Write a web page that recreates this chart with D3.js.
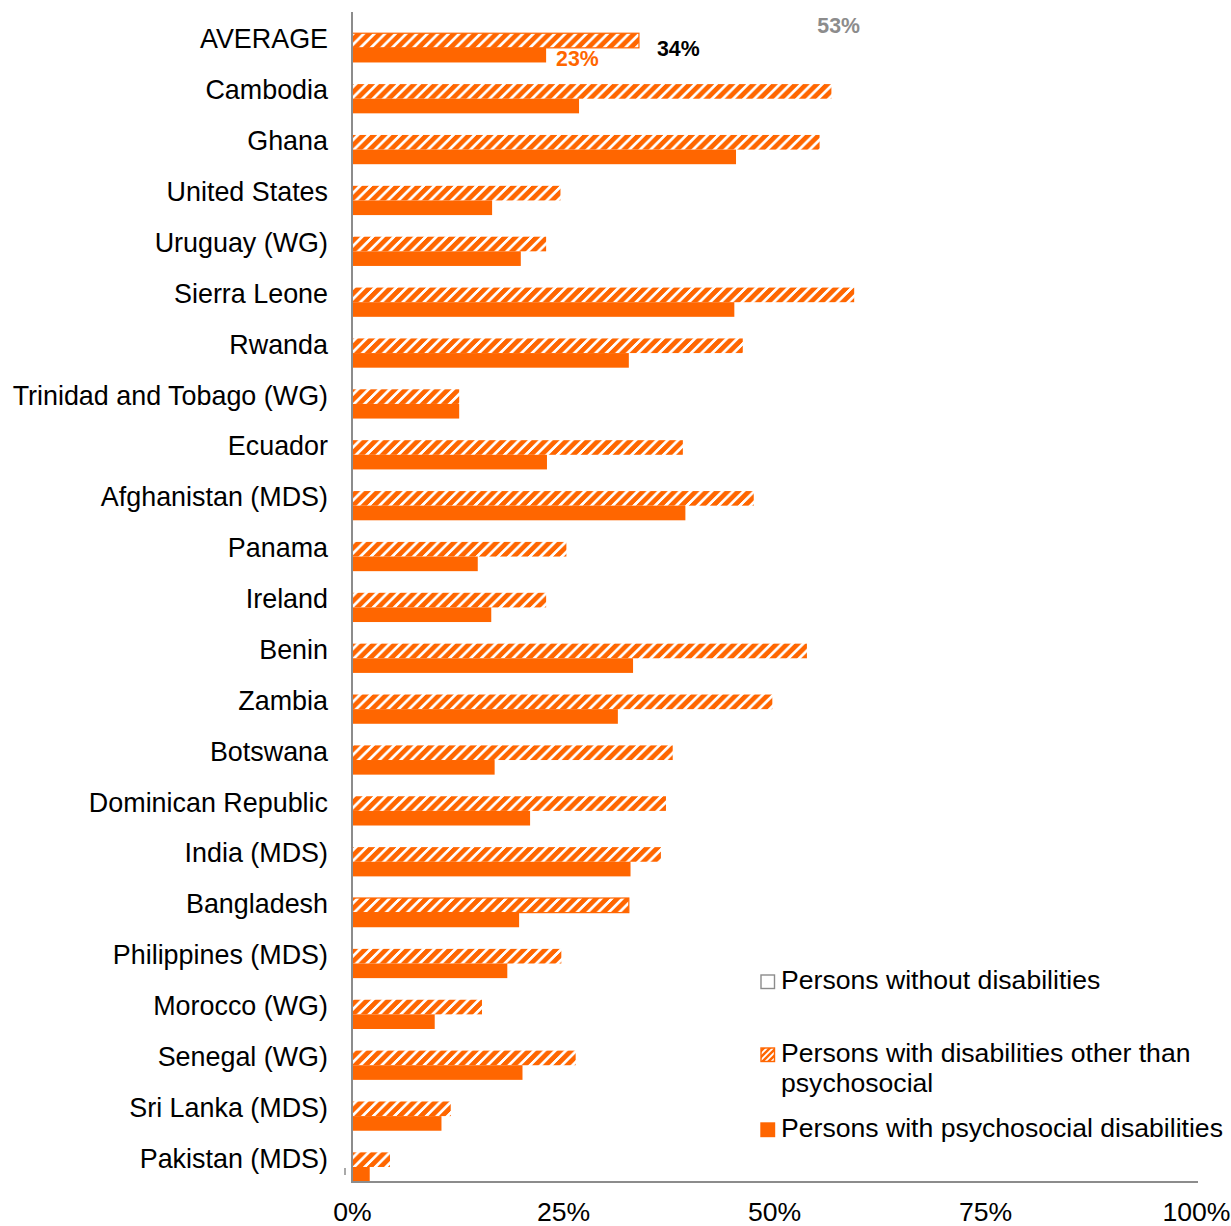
<!DOCTYPE html>
<html>
<head>
<meta charset="utf-8">
<script src="https://cdn.jsdelivr.net/npm/d3@7"></script>
<style>
  html, body { margin: 0; padding: 0; background: #fff; }
  svg { display: block; font-family: Arial, "Liberation Sans", sans-serif; }
</style>
</head>
<body>
<script>
const categories = ["AVERAGE","Cambodia","Ghana","United States","Uruguay (WG)","Sierra Leone","Rwanda","Trinidad and Tobago (WG)","Ecuador","Afghanistan (MDS)","Panama","Ireland","Benin","Zambia","Botswana","Dominican Republic","India (MDS)","Bangladesh","Philippines (MDS)","Morocco (WG)","Senegal (WG)","Sri Lanka (MDS)","Pakistan (MDS)"];
const seriesNames = ["Persons without disabilities","Persons with disabilities other than psychosocial","Persons with psychosocial disabilities"];
const withoutDisabilities = [53, null, null, null, null, null, null, null, null, null, null, null, null, null, null, null, null, null, null, null, null, null, null];
const otherThanPsychosocial = [34, 56.8, 55.4, 24.7, 23.0, 59.5, 46.3, 12.7, 39.2, 47.6, 25.4, 23.0, 53.9, 49.8, 38.0, 37.2, 36.6, 32.8, 24.8, 15.4, 26.5, 11.7, 4.5];
const psychosocial = [23, 26.9, 45.5, 16.6, 20.0, 45.3, 32.8, 12.7, 23.1, 39.5, 14.9, 16.5, 33.3, 31.5, 16.9, 21.1, 33.0, 19.8, 18.4, 9.8, 20.2, 10.6, 2.1];
const xTicks = [0, 25, 50, 75, 100];
const averageLabels = ["53%", "34%", "23%"];
const outlinedCategories = ["AVERAGE", "Bangladesh"];

const W = 1231, H = 1226;
const ORANGE = "#FF6600";
const GREY = "#8c8c8c";
const svg = d3.select("body").append("svg").attr("width", W).attr("height", H);

const defs = svg.append("defs");
const p = 10.6;
const pat = defs.append("pattern").attr("id", "hatch")
  .attr("patternUnits", "userSpaceOnUse").attr("width", p).attr("height", p);
pat.append("rect").attr("width", p).attr("height", p).attr("fill", "#fff");
pat.append("path")
  .attr("d", `M${-p/2},${p/2} L${p/2},${-p/2} M0,${p} L${p},0 M${p/2},${1.5*p} L${1.5*p},${p/2}`)
  .attr("stroke", ORANGE).attr("stroke-width", 4.1).attr("shape-rendering", "crispEdges");
const pat2 = defs.append("pattern").attr("id", "hatchSmall")
  .attr("patternUnits", "userSpaceOnUse").attr("width", 6).attr("height", 6);
pat2.append("rect").attr("width", 6).attr("height", 6).attr("fill", "#fff");
pat2.append("path").attr("d", "M-3,3 L3,-3 M0,6 L6,0 M3,9 L9,3")
  .attr("stroke", ORANGE).attr("stroke-width", 2.4);

const x = d3.scaleLinear().domain([0, 100]).range([352, 1196]);
const y = d3.scaleBand().domain(categories).range([12, 1182]).padding(0);
const bw = y.bandwidth();
const yInner = d3.scaleBand().domain(seriesNames).range([6.6, bw - 0.4]).padding(0);
const ih = yInner.bandwidth();

const rows = categories.map((c, i) => ({
  cat: c,
  vals: [withoutDisabilities[i], otherThanPsychosocial[i], psychosocial[i]]
}));

const fills = ["#fff", "url(#hatch)", ORANGE];

const g = svg.append("g");
rows.forEach(r => {
  r.vals.forEach((v, k) => {
    if (v == null) return;
    const rect = g.append("rect")
      .attr("x", x(0))
      .attr("y", y(r.cat) + yInner(seriesNames[k]))
      .attr("width", x(v) - x(0))
      .attr("height", ih)
      .attr("fill", fills[k]);
    if (k === 1 && outlinedCategories.includes(r.cat)) {
      rect.attr("stroke", ORANGE).attr("stroke-width", 1.2);
    }
  });
});

// AVERAGE data labels
const avg = rows[0];
const avgY = y(avg.cat);
svg.append("text").attr("x", x(avg.vals[0]) + 18).attr("y", avgY + yInner(seriesNames[0]) + ih / 2 + 7)
  .attr("font-size", 21.3).attr("font-weight", "bold").attr("fill", GREY).text(averageLabels[0]);
svg.append("text").attr("x", x(avg.vals[1]) + 18).attr("y", avgY + yInner(seriesNames[1]) + ih / 2 + 15)
  .attr("font-size", 21.3).attr("font-weight", "bold").attr("fill", "#000").text(averageLabels[1]);
svg.append("text").attr("x", x(avg.vals[2]) + 10).attr("y", avgY + yInner(seriesNames[2]) + ih / 2 + 10.5)
  .attr("font-size", 21.3).attr("font-weight", "bold").attr("fill", ORANGE).text(averageLabels[2]);

// Category labels
const yAxis = d3.axisLeft(y).tickSize(0).tickPadding(0);
const yg = svg.append("g").attr("transform", `translate(328,0)`).call(yAxis);
yg.select(".domain").remove();
yg.selectAll(".tick").attr("transform", d => `translate(0,${y(d) + yInner(seriesNames[1]) + ih / 2 - 1.5})`);
yg.selectAll("text").attr("font-size", 26.9).attr("font-family", "Arial, 'Liberation Sans', sans-serif")
  .attr("fill", "#000").attr("dy", "0.35em");

// Axis lines
svg.append("line").attr("x1", 352).attr("x2", 352).attr("y1", 12).attr("y2", 1183)
  .attr("stroke", GREY).attr("stroke-width", 2);
svg.append("line").attr("x1", 351).attr("x2", 1198).attr("y1", 1182).attr("y2", 1182)
  .attr("stroke", GREY).attr("stroke-width", 2);
svg.append("line").attr("x1", 345).attr("x2", 345).attr("y1", 1168).attr("y2", 1175)
  .attr("stroke", GREY).attr("stroke-width", 1.5);

// X axis tick labels
const xAxis = d3.axisBottom(x).tickValues(xTicks).tickSize(0).tickPadding(0).tickFormat(d => d + "%");
const xg = svg.append("g").attr("transform", "translate(0,1221)").call(xAxis);
xg.select(".domain").remove();
xg.selectAll("text").attr("font-size", 26.6).attr("font-family", "Arial, 'Liberation Sans', sans-serif")
  .attr("fill", "#000").attr("dy", 0);

// Legend
const lg = svg.append("g");
const legendItems = [
  { lines: ["Persons without disabilities"], sy: 975, ty: 989, fill: "#fff", stroke: GREY },
  { lines: ["Persons with disabilities other than", "psychosocial"], sy: 1048, ty: 1062, fill: "url(#hatchSmall)", stroke: ORANGE },
  { lines: ["Persons with psychosocial disabilities"], sy: 1123, ty: 1137, fill: ORANGE, stroke: ORANGE }
];
legendItems.forEach((it, i) => {
  lg.append("rect").attr("x", 761).attr("y", it.sy).attr("width", 13.5).attr("height", 13.5)
    .attr("fill", it.fill).attr("stroke", it.stroke).attr("stroke-width", 1.4);
  const t = lg.append("text").attr("x", 781).attr("y", it.ty).attr("font-size", 26.6).attr("fill", "#000");
  it.lines.forEach((ln, j) => {
    t.append("tspan").attr("x", 781).attr("dy", j === 0 ? 0 : 30).text(ln);
  });
});
</script>
</body>
</html>
